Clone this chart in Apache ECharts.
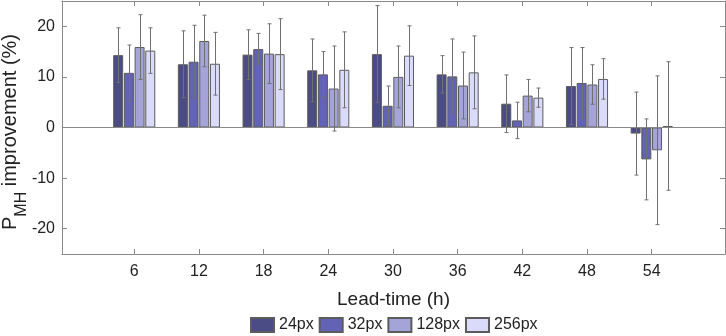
<!DOCTYPE html>
<html>
<head>
<meta charset="utf-8">
<script src="https://cdn.jsdelivr.net/npm/echarts@6/dist/echarts.min.js"></script>
<style>
  html, body { margin: 0; padding: 0; background: #fff; }
  #chart { width: 726px; height: 336px; }
</style>
</head>
<body>
<div id="chart"></div>
<script>
// lead-times (h)
var leadTimes = [6, 12, 18, 24, 30, 36, 42, 48, 54];
var yTicks = [-20, -10, 0, 10, 20];

// mean improvement (%) per patch size
var px24 = [14.3, 12.5, 14.4, 11.3, 14.5, 10.5, 4.7, 8.2, -1.2];
var px32 = [10.8, 13.0, 15.5, 10.5, 4.3, 10.1, 1.4, 8.8, -6.3];
var px128 = [15.9, 17.1, 14.6, 7.7, 10.0, 8.3, 6.3, 8.5, -4.5];
var px256 = [15.2, 12.6, 14.5, 11.4, 14.2, 10.9, 5.9, 9.6, 0.3];

// error bar half widths
var err24 = [5.4, 6.6, 4.9, 6.2, 9.6, 3.7, 5.7, 7.6, 8.2];
var err32 = [5.5, 7.2, 3.1, 4.5, 3.9, 7.4, 3.6, 7.0, 8.0];
var err128 = [6.4, 5.1, 5.9, 8.4, 6.1, 6.6, 3.2, 3.9, 14.7];
var err256 = [4.5, 6.2, 7.0, 7.5, 5.9, 7.2, 1.9, 4.0, 12.7];

var names = ['24px', '32px', '128px', '256px'];
var colors = ['#4b4b86', '#6262b6', '#a4a4d8', '#dadafa'];
var means = [px24, px32, px128, px256];
var errs = [err24, err32, err128, err256];

var axisCol = '#8a8a8a';
var barW = 10, step = 10.7;

var chart = echarts.init(document.getElementById('chart'));

var series = [];
means.forEach(function (vals, i) {
  var s = {
    name: names[i],
    type: 'bar',
    barWidth: barW,
    barGap: '7%',
    itemStyle: { color: colors[i], borderColor: '#5c5c5c', borderWidth: 1 },
    data: vals.map(function (v, k) { return [leadTimes[k], v]; })
  };
  if (i === 0) {
    s.markLine = {
      silent: true,
      symbol: ['none', 'none'],
      label: { show: false },
      lineStyle: { color: axisCol, type: 'solid', width: 1 },
      data: [{ yAxis: 0 }]
    };
  }
  series.push(s);
});

means.forEach(function (vals, i) {
  series.push({
    type: 'custom',
    z: 5,
    silent: true,
    data: vals.map(function (v, k) { return [leadTimes[k], v - errs[i][k], v + errs[i][k]]; }),
    renderItem: function (params, api) {
      var lo = api.coord([api.value(0), api.value(1)]);
      var hi = api.coord([api.value(0), api.value(2)]);
      var x = Math.round(lo[0] + (i - 1.5) * step) + 0.5;
      var st = { stroke: '#707070', lineWidth: 1 };
      return {
        type: 'group',
        children: [
          { type: 'line', shape: { x1: x, y1: lo[1], x2: x, y2: hi[1] }, style: st },
          { type: 'line', shape: { x1: x - 2, y1: lo[1], x2: x + 2, y2: lo[1] }, style: st },
          { type: 'line', shape: { x1: x - 2, y1: hi[1], x2: x + 2, y2: hi[1] }, style: st }
        ]
      };
    }
  });
});

var font = 'Liberation Sans, Arial, sans-serif';

chart.setOption({
  animation: false,
  textStyle: { fontFamily: font },
  grid: { left: 62, right: 1, top: 1, bottom: 82, outerBoundsMode: 'none', containLabel: false },
  // y axis title with subscript
  graphic: [{
    type: 'text',
    x: 0,
    y: 132,
    rotation: Math.PI / 2,
    silent: true,
    style: {
      text: '{m|P}{s|MH}{m| improvement (%)}',
      align: 'center',
      verticalAlign: 'top',
      fill: '#222',
      fontFamily: font,
      rich: {
        m: { fontSize: 20, lineHeight: 22, verticalAlign: 'top', fill: '#222', fontFamily: font },
        s: { fontSize: 16, lineHeight: 17, padding: [14, 0, 0, 0], verticalAlign: 'top', fill: '#222', fontFamily: font }
      }
    }
  }],
  legend: {
    data: names,
    left: 250,
    bottom: 3,
    padding: 0,
    icon: 'rect',
    itemWidth: 23,
    itemHeight: 14,
    itemGap: 5,
    textStyle: { fontSize: 16, color: '#222', fontFamily: font }
  },
  xAxis: [{
    type: 'value',
    min: -0.7,
    max: 60.8,
    position: 'bottom',
    name: 'Lead-time (h)',
    nameLocation: 'middle',
    nameGap: 36,
    nameTextStyle: { fontSize: 19, color: '#222' },
    axisLine: { show: true, onZero: false, lineStyle: { color: axisCol } },
    axisTick: { inside: true, length: 5, customValues: leadTimes, lineStyle: { color: axisCol } },
    axisLabel: { customValues: leadTimes, fontSize: 16, color: '#222', margin: 10 },
    splitLine: { show: false }
  }, {
    type: 'value',
    min: -0.7,
    max: 60.8,
    position: 'top',
    axisLine: { show: true, onZero: false, lineStyle: { color: axisCol } },
    axisTick: { inside: true, length: 5, customValues: leadTimes, lineStyle: { color: axisCol } },
    axisLabel: { show: false },
    splitLine: { show: false }
  }],
  yAxis: [{
    type: 'value',
    min: -25,
    max: 25,
    position: 'left',
    axisLine: { show: true, onZero: false, lineStyle: { color: axisCol } },
    axisTick: { inside: true, length: 5, customValues: yTicks, lineStyle: { color: axisCol } },
    axisLabel: { customValues: yTicks, fontSize: 16, color: '#222', margin: 7 },
    splitLine: { show: false }
  }, {
    type: 'value',
    min: -25,
    max: 25,
    position: 'right',
    axisLine: { show: true, onZero: false, lineStyle: { color: axisCol } },
    axisTick: { inside: true, length: 5, customValues: yTicks, lineStyle: { color: axisCol } },
    axisLabel: { show: false },
    splitLine: { show: false }
  }],
  series: series
});
</script>
</body>
</html>
